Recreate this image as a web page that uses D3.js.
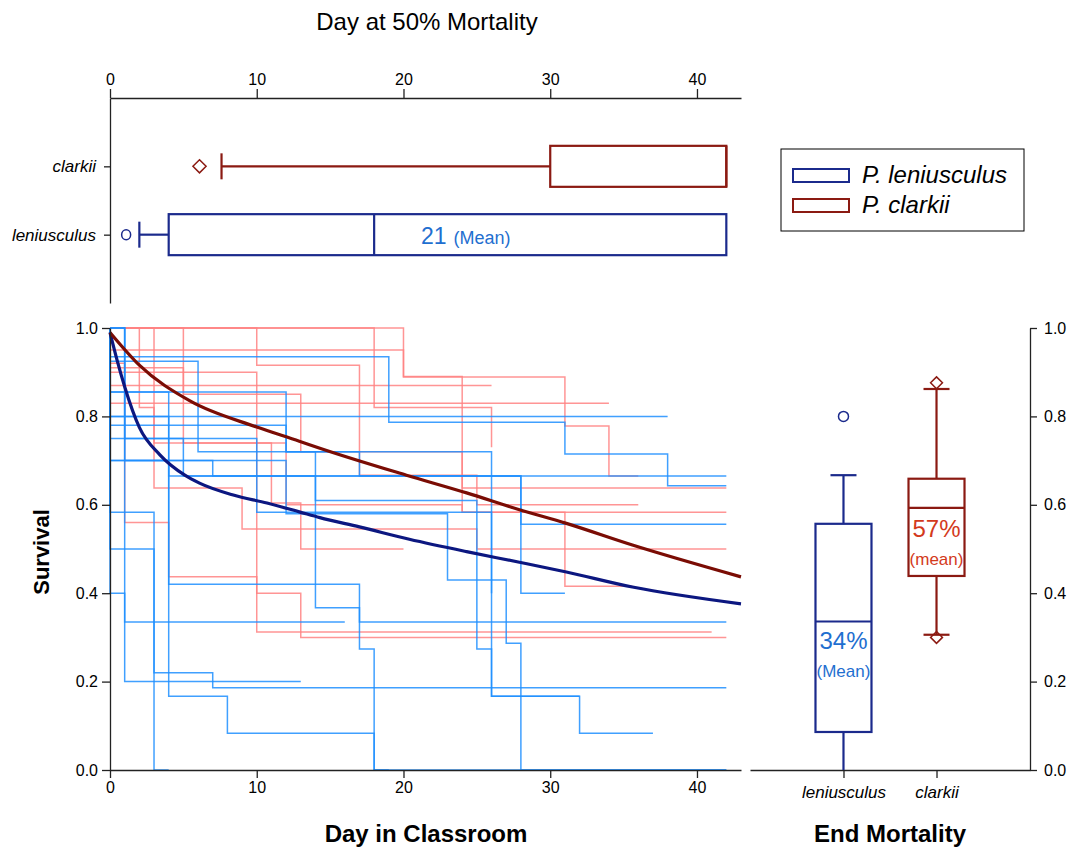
<!DOCTYPE html>
<html lang="en">
<head>
<meta charset="UTF-8">
<title>Crayfish survival</title>
<script src="https://d3js.org/d3.v7.min.js"></script>
<style>
    body { margin: 0; background: #fff; font-family: Arial, "Liberation Sans", sans-serif; }
    .axis path, .axis line { stroke: #222; stroke-width: 1.3px; }
    .axis text { font-size: 16px; fill: #000; font-family: Arial, "Liberation Sans", sans-serif; }
    .cat text { font-style: italic; font-size: 17px; }
    .step { fill: none; stroke-width: 1.5px; }
    .title { font-weight: bold; font-size: 24px; }
</style>
</head>
<body>
<svg id="chart" width="1082" height="848"></svg>
<script>
// ---- data ----
const species = ["leniusculus", "clarkii"];
const legendNames = ["P. leniusculus", "P. clarkii"];
const dayTicks = [0, 10, 20, 30, 40];
const survTicks = [0, 0.2, 0.4, 0.6, 0.8, 1.0];

// day at 50% mortality box plots
const dayBox = {
    leniusculus: { q1: 4, median: 18, q3: 42, lo: 2, hi: 42, out: [1.1] },
    clarkii: { q1: 30, median: 42, q3: 42, lo: 7.6, hi: 42, out: [6.1] }
};
const dayMean = 21;

// end mortality (final survival) box plots
const endBox = {
    leniusculus: { q1: 0.086, median: 0.336, q3: 0.557, lo: 0, hi: 0.667, out: [0.80] },
    clarkii: { q1: 0.439, median: 0.593, q3: 0.659, lo: 0.306, hi: 0.862, out: [0.876, 0.30] }
};
const endMean = ["34%", "57%"];

// fitted survival curves [day, survival]
const lenFit = [[0, .99], [0.5, .925], [1, .867], [2, .775], [3.4, .713], [5.1, .667], [6.1, .649], [8.4, .622],
    [10.7, .604], [12.9, .584], [14.3, .571], [17, .55], [20.4, .522], [24.3, .494], [27.9, .47],
    [31.1, .448], [35.6, .414], [43, .376]];
const claFit = [[0, .99], [2, .916], [5.45, .835], [10, .776], [12.9, .744], [14.3, .728], [20.2, .667],
    [24.3, .627], [27.9, .589], [31.1, .558], [35.6, .509], [43, .437]];

// individual classroom survival steps [day, survival]
const lenSteps = [
    [[0, 1], [0, .935], [19, .787], [31, .715], [38, .643], [42, .643]],
    [[0, 1], [0, .80], [38, .80]],
    [[0, 1], [0, .78], [12, .72], [17, .665], [42, .665]],
    [[0, 1], [0, .70], [7, .665], [28, .40], [31, .40]],
    [[0, 1], [0, .75], [5, .665], [28, .556], [42, .556]],
    [[0, 1], [1, .75], [10, .583], [26, .43], [27, .287], [28, 0], [42, 0]],
    [[0, 1], [1, .20], [13, .20]],
    [[0, 1], [0, .50], [3, .22], [7, .186], [42, .186]],
    [[0, 1], [0, .583], [3, 0], [4, 0]],
    [[0, 1], [0, .80], [4, .167], [8, .083], [18, 0], [42, 0]],
    [[0, 1], [0, .855], [12, .72], [26, .167], [32, .083], [37, .083]],
    [[0, 1], [0, .40], [1, .335], [16, .335]],
    [[0, 1], [0, .70], [4, .42], [17, .274], [18, 0], [19, 0]],
    [[0, 1], [0, .925], [6, .72], [14, .367], [17, .335], [42, .335]],
    [[0, 1], [0, .855], [4, .665], [14, .61], [25, .274], [26, .167], [32, .167]],
    [[0, 1], [1, .70], [12, .58], [23, .43], [26, .40]]
];
const claSteps = [
    [[0, 1], [20, .889], [31, .778], [34, .665], [36, .665]],
    [[0, 1], [10, .916], [17, .667], [25, .60], [36, .60]],
    [[0, 1], [18, .82], [24, .638], [42, .638]],
    [[0, 1], [0, .87], [26, .87]],
    [[0, 1], [0, .83], [34, .83]],
    [[0, 1], [3, .638], [9, .545], [25, .50], [42, .50]],
    [[0, 1], [0, .92], [1, .56], [4, .437], [10, .312], [41, .312]],
    [[0, 1], [0, .90], [10, .40], [13, .30], [42, .30]],
    [[0, 1], [2, .82], [3, .74], [11, .604], [13, .50], [20, .50]],
    [[0, 1], [0, .91], [5, .74], [12, .60], [24, .583], [31, .416], [35.6, .416]],
    [[0, 1], [5, .85], [13, .72], [24, .583], [42, .583]],
    [[0, 1], [0, .95], [20, .89], [24, .82], [26, .73]]
];

// ---- layout ----
const svg = d3.select("#chart");
const navy = "#1b2a8c", darkRed = "#8b1a12";
const lightBlue = "#1e8fff", pink = "#ff8282";

const x = d3.scaleLinear().domain([0, 43]).range([110, 741]);
const y = d3.scaleLinear().domain([0, 1]).range([770, 328]);

// ---- top box plot (day at 50% mortality) ----
const yTop = d3.scalePoint().domain(species).range([303, 98]).padding(1);

svg.append("text").attr("x", 427).attr("y", 30).attr("text-anchor", "middle")
    .style("font-size", "24px").text("Day at 50% Mortality");

svg.append("g").attr("class", "axis").attr("transform", "translate(0,98)")
    .call(d3.axisTop(x).tickValues(dayTicks).tickSize(9).tickSizeOuter(0).tickPadding(4));
svg.append("g").attr("class", "axis cat").attr("transform", "translate(110,0)")
    .call(d3.axisLeft(yTop).tickSize(6).tickSizeOuter(0).tickPadding(8));

const boxH = 41;
species.forEach((sp, i) => {
    const b = dayBox[sp];
    const col = i === 0 ? navy : darkRed;
    const cy = yTop(sp);
    const g = svg.append("g").attr("stroke", col).attr("stroke-width", 2.2).attr("fill", "none");
    g.append("line").attr("x1", x(b.lo)).attr("x2", x(b.q1)).attr("y1", cy).attr("y2", cy);
    g.append("line").attr("x1", x(b.lo)).attr("x2", x(b.lo)).attr("y1", cy - 13).attr("y2", cy + 13);
    g.append("rect").attr("x", x(b.q1)).attr("y", cy - boxH / 2)
        .attr("width", x(b.q3) - x(b.q1)).attr("height", boxH).attr("fill", "#fff");
    g.append("line").attr("x1", x(b.median)).attr("x2", x(b.median)).attr("y1", cy - boxH / 2).attr("y2", cy + boxH / 2);
    b.out.forEach(v => {
        if (i === 0) {
            g.append("ellipse").attr("cx", x(v)).attr("cy", cy).attr("rx", 4.5).attr("ry", 5).attr("stroke-width", 1.5);
        } else {
            g.append("path").attr("d", d3.symbol(d3.symbolDiamond2, 110)()).attr("stroke-width", 1.5)
                .attr("transform", `translate(${x(v)},${cy})`);
        }
    });
});
const meanTxt = svg.append("text").attr("x", 421).attr("y", 244).attr("fill", "#1f6fd0");
meanTxt.append("tspan").style("font-size", "23px").text(dayMean);
meanTxt.append("tspan").attr("dx", 7).style("font-size", "18px").text("(Mean)");

// ---- legend ----
const leg = svg.append("g");
leg.append("rect").attr("x", 781).attr("y", 149).attr("width", 243).attr("height", 82)
    .attr("fill", "#fff").attr("stroke", "#000").attr("stroke-width", 1);
legendNames.forEach((n, i) => {
    const ly = 175 + i * 30;
    leg.append("rect").attr("x", 793).attr("y", ly - 6).attr("width", 56).attr("height", 13)
        .attr("fill", "#fff").attr("stroke", i === 0 ? navy : darkRed).attr("stroke-width", 2);
    leg.append("text").attr("x", 862).attr("y", ly + 8).style("font-size", "24px")
        .style("font-style", "italic").text(n);
});

// ---- main survival plot ----
const stepLine = d3.line().x(d => x(d[0])).y(d => y(d[1])).curve(d3.curveStepAfter);
const plot = svg.append("g");
claSteps.forEach(s => plot.append("path").datum(s).attr("class", "step")
    .attr("stroke", pink).attr("opacity", 0.85).attr("d", stepLine));
lenSteps.forEach(s => plot.append("path").datum(s).attr("class", "step")
    .attr("stroke", lightBlue).attr("opacity", 0.85).attr("d", stepLine));

const fitLine = d3.line().x(d => x(d[0])).y(d => y(d[1])).curve(d3.curveMonotoneX);
plot.append("path").datum(lenFit).attr("fill", "none").attr("stroke", "#0c1780").attr("stroke-width", 3.2).attr("d", fitLine);
plot.append("path").datum(claFit).attr("fill", "none").attr("stroke", "#7a0c04").attr("stroke-width", 3.2).attr("d", fitLine);

svg.append("g").attr("class", "axis").attr("transform", "translate(0,770)")
    .call(d3.axisBottom(x).tickValues(dayTicks).tickSize(8).tickSizeOuter(0).tickPadding(4));
svg.append("g").attr("class", "axis").attr("transform", "translate(110,0)")
    .call(d3.axisLeft(y).tickValues(survTicks).tickFormat(d3.format(".1f")).tickSize(8).tickSizeOuter(0).tickPadding(4));

svg.append("text").attr("class", "title").attr("transform", "translate(49,552) rotate(-90)")
    .attr("text-anchor", "middle").style("font-size", "22px").text("Survival");
svg.append("text").attr("class", "title").attr("x", 426).attr("y", 842)
    .attr("text-anchor", "middle").text("Day in Classroom");

// ---- end mortality box plot ----
const xEnd = d3.scalePoint().domain(species).range([750, 1030]).padding(1.005);
svg.append("g").attr("class", "axis cat").attr("transform", "translate(0,770)")
    .call(d3.axisBottom(xEnd).tickSize(8).tickSizeOuter(0).tickPadding(8));
svg.append("g").attr("class", "axis").attr("transform", "translate(1030,0)")
    .call(d3.axisRight(y).tickValues(survTicks).tickFormat(d3.format(".1f")).tickSize(7).tickSizeOuter(0).tickPadding(7));

const boxW = 56;
species.forEach((sp, i) => {
    const b = endBox[sp];
    const col = i === 0 ? navy : darkRed;
    const cx = xEnd(sp);
    const g = svg.append("g").attr("stroke", col).attr("stroke-width", 2.2).attr("fill", "none");
    g.append("line").attr("x1", cx).attr("x2", cx).attr("y1", y(b.hi)).attr("y2", y(b.lo));
    g.append("line").attr("x1", cx - 13).attr("x2", cx + 13).attr("y1", y(b.hi)).attr("y2", y(b.hi));
    if (b.lo > 0) g.append("line").attr("x1", cx - 13).attr("x2", cx + 13).attr("y1", y(b.lo)).attr("y2", y(b.lo));
    g.append("rect").attr("x", cx - boxW / 2).attr("y", y(b.q3)).attr("width", boxW)
        .attr("height", y(b.q1) - y(b.q3)).attr("fill", "#fff");
    g.append("line").attr("x1", cx - boxW / 2).attr("x2", cx + boxW / 2).attr("y1", y(b.median)).attr("y2", y(b.median));
    b.out.forEach(v => {
        if (i === 0) {
            g.append("circle").attr("cx", cx).attr("cy", y(v)).attr("r", 5).attr("stroke-width", 1.5);
        } else {
            g.append("path").attr("d", d3.symbol(d3.symbolDiamond2, 90)()).attr("stroke-width", 1.5)
                .attr("fill", "none").attr("transform", `translate(${cx},${y(v)})`);
        }
    });
    const tc = i === 0 ? "#1f6fd0" : "#d33a1c";
    const ty = i === 0 ? 649 : 537;
    svg.append("text").attr("x", cx).attr("y", ty).attr("text-anchor", "middle").attr("fill", tc)
        .style("font-size", "24px").text(endMean[i]);
    svg.append("text").attr("x", cx).attr("y", ty + 28).attr("text-anchor", "middle").attr("fill", tc)
        .style("font-size", "17px").text(i === 0 ? "(Mean)" : "(mean)");
});

svg.append("text").attr("class", "title").attr("x", 890).attr("y", 842)
    .attr("text-anchor", "middle").text("End Mortality");
</script>
</body>
</html>
